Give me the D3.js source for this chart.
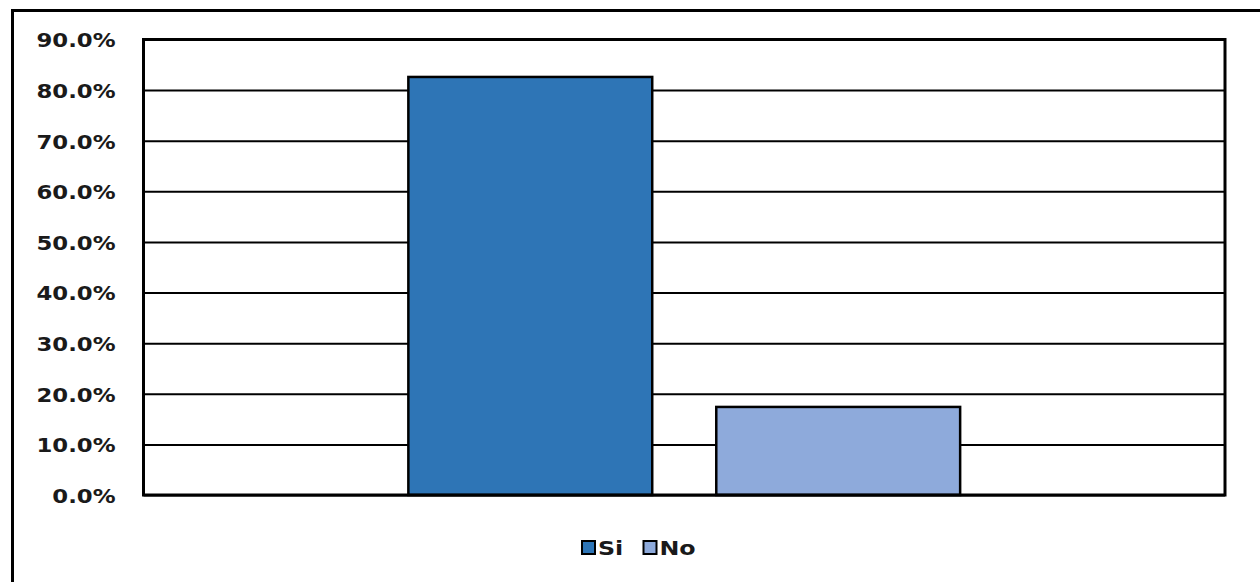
<!DOCTYPE html>
<html>
<head>
<meta charset="utf-8">
<script src="https://cdn.jsdelivr.net/npm/d3@7"></script>
<style>
  html, body { margin: 0; padding: 0; background: #fff; }
  svg { display: block; }
  text { font-family: "DejaVu Sans", Verdana, sans-serif; font-weight: bold; fill: #1a1a1a; }
</style>
</head>
<body>
<svg id="chart" width="1260" height="582"></svg>
<script>
// Survey answer shares (percent)
const categories = ["Respuesta"];
const seriesNames = ["Si", "No"];
const seriesValues = [82.6, 17.4];
const seriesColors = ["#2E75B6", "#8EAADB"];
const tickValues = [0, 10, 20, 30, 40, 50, 60, 70, 80, 90];

const svg = d3.select("#chart");
const W = 1260, H = 582;

// Outer chart frame (extends past the right and bottom edges)
svg.append("rect")
  .attr("x", 12.5).attr("y", 10.5)
  .attr("width", W + 20).attr("height", H + 20)
  .attr("fill", "#fff").attr("stroke", "#000").attr("stroke-width", 3);

const plot = { left: 143.5, top: 39.5, right: 1225, bottom: 495 };

const y = d3.scaleLinear().domain([0, 90]).range([plot.bottom, plot.top]);
const x0 = d3.scaleBand().domain(categories).range([plot.left, plot.right]).paddingInner(0).paddingOuter(0.48);
const x1 = d3.scaleBand().domain(seriesNames).range([0, x0.bandwidth()]).paddingInner(0.208).paddingOuter(0);

// Horizontal gridlines via axis ticks
const yAxis = d3.axisLeft(y).tickValues(tickValues).tickSize(-(plot.right - plot.left)).tickFormat(d => d3.format(".1f")(d) + "%");
const gAxis = svg.append("g").attr("transform", `translate(${plot.left},0)`).call(yAxis);
gAxis.select(".domain").remove();
gAxis.selectAll(".tick line").attr("stroke", "#000").attr("stroke-width", 2);
gAxis.selectAll(".tick text")
  .attr("x", 0).attr("dy", null)
  .attr("dominant-baseline", "central")
  .attr("text-anchor", "end")
  .style("font-size", "19px")
  .attr("transform", "translate(-28,1) scale(1.2,1)");

// Bars
const group = svg.append("g").selectAll("g").data(categories).join("g")
  .attr("transform", d => `translate(${x0(d)},0)`);
group.selectAll("rect")
  .data(() => seriesNames.map((n, i) => ({ name: n, value: seriesValues[i], color: seriesColors[i] })))
  .join("rect")
  .attr("x", d => x1(d.name))
  .attr("y", d => y(d.value))
  .attr("width", x1.bandwidth())
  .attr("height", d => y(0) - y(d.value))
  .attr("fill", d => d.color)
  .attr("stroke", "#000").attr("stroke-width", 2.5);

// Plot area frame
svg.append("rect")
  .attr("x", plot.left).attr("y", plot.top)
  .attr("width", plot.right - plot.left).attr("height", plot.bottom - plot.top)
  .attr("fill", "none").attr("stroke", "#000").attr("stroke-width", 3);

// Legend
const legendItems = [
  { name: seriesNames[0], color: seriesColors[0], x: 582 },
  { name: seriesNames[1], color: seriesColors[1], x: 643.5 }
];
const lg = svg.append("g").selectAll("g").data(legendItems).join("g")
  .attr("transform", d => `translate(${d.x},541)`);
lg.append("rect")
  .attr("width", 13).attr("height", 13)
  .attr("fill", d => d.color).attr("stroke", "#000").attr("stroke-width", 2);
lg.append("text")
  .attr("dominant-baseline", "central")
  .style("font-size", "19px")
  .attr("transform", "translate(16,7.5) scale(1.25,1)")
  .text(d => d.name);
</script>
</body>
</html>
